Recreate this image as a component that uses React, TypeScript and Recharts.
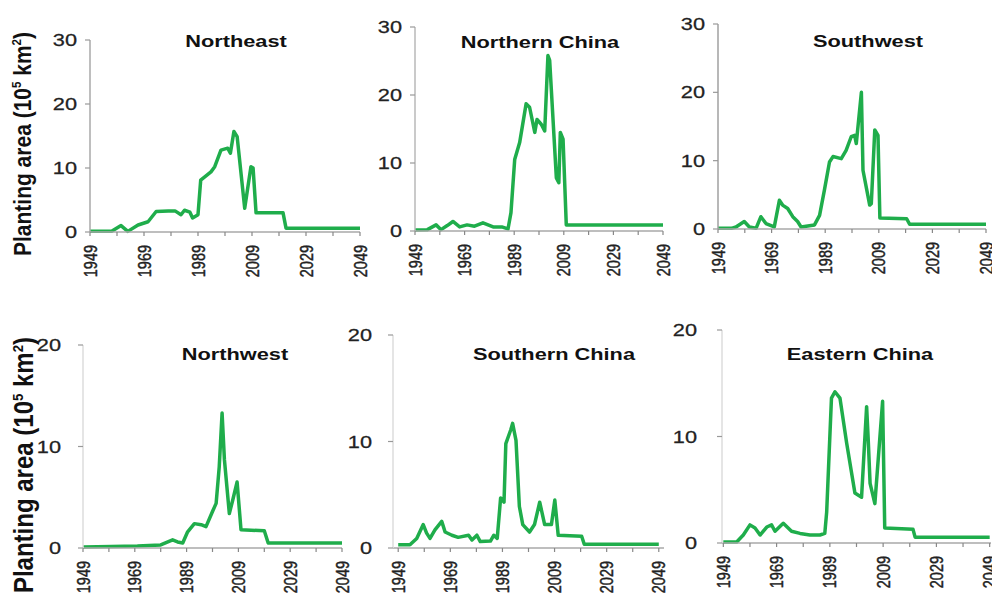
import React from 'react';
import { LineChart, Line, XAxis, YAxis } from 'recharts';

// ---- data: [year, planting area (10^5 km^2)] ----
const northeast: [number, number][] = [
  [1949, 0.1], [1957, 0.1], [1960.5, 1.0], [1963, 0.1], [1966.8, 1.1], [1970.5, 1.6], [1973.5, 3.2],
  [1978, 3.3], [1980.5, 3.3], [1982.7, 2.7], [1984, 3.4], [1986, 3.1], [1987, 2.2], [1989, 2.7],
  [1990, 8.1], [1993.8, 9.4], [1995.2, 10.2], [1997.5, 12.8], [2000, 13.1], [2001, 12.3], [2002.3, 15.7],
  [2003.5, 14.9], [2006.3, 3.7], [2008.6, 10.2], [2009.4, 10.0], [2010.5, 3.0], [2020.5, 3.0],
  [2021.6, 0.6], [2049, 0.6],
];
const northernChina: [number, number][] = [
  [1949, 0.15], [1954, 0.2], [1957.5, 0.9], [1959.5, 0.2], [1962, 0.8], [1964.3, 1.4], [1967, 0.6],
  [1970, 0.9], [1973, 0.7], [1976.4, 1.2], [1980.5, 0.6], [1984, 0.6], [1986.5, 0.3], [1987.7, 2.7],
  [1989.2, 10.5], [1991.2, 13], [1993.8, 18.7], [1995.2, 18.2], [1997.3, 14.5], [1998.2, 16.4],
  [1999.9, 15.7], [2001.3, 14.7], [2002.6, 25.8], [2003.3, 25.1], [2006, 7.8], [2007, 7.1],
  [2007.6, 14.5], [2008.7, 13.5], [2010, 0.9], [2049, 0.9],
];
const southwest: [number, number][] = [
  [1949, 0.1], [1954, 0.1], [1955.7, 0.3], [1958.8, 1.1], [1960.7, 0.3], [1963.2, 0.1], [1965, 1.8],
  [1966.9, 0.8], [1970, 0.3], [1971.9, 4.2], [1973.1, 3.5], [1975, 3.0], [1976.9, 1.8], [1978.7, 1.1],
  [1980, 0.3], [1985, 0.6], [1986.9, 2.0], [1988.7, 5.7], [1990.6, 9.8], [1991.9, 10.6], [1995, 10.3],
  [1996.8, 11.5], [1998.7, 13.5], [2000, 13.7], [2000.6, 12.5], [2002.5, 20.0], [2003.1, 8.6],
  [2005.6, 3.5], [2006.2, 3.7], [2007.5, 14.5], [2008.7, 13.7], [2009.4, 1.6], [2019.4, 1.5],
  [2020.5, 0.7], [2049, 0.7],
];
const northwest: [number, number][] = [
  [1949, 0.1], [1960, 0.15], [1970, 0.2], [1979, 0.3], [1983.6, 0.8], [1985.5, 0.6], [1987.5, 0.5],
  [1989.4, 1.6], [1992, 2.4], [1994.6, 2.3], [1996.5, 2.1], [1999, 3.6], [2000.4, 4.4], [2001.6, 8.0],
  [2002.7, 13.3], [2003.6, 8.7], [2005.5, 3.4], [2006.8, 4.7], [2008.5, 6.5], [2010, 1.8], [2019, 1.7],
  [2020.5, 0.5], [2049, 0.5],
];
const southernChina: [number, number][] = [
  [1949, 0.3], [1953.5, 0.3], [1956.1, 0.9], [1958.6, 2.2], [1959.9, 1.4], [1961.2, 0.9], [1963.1, 1.7],
  [1965.7, 2.5], [1967, 1.5], [1969.6, 1.2], [1972, 1.0], [1976, 1.2], [1977.3, 0.75], [1979.2, 1.2],
  [1980.5, 0.6], [1984.4, 0.65], [1985.7, 1.2], [1987, 0.9], [1988.3, 4.7], [1989.6, 4.3], [1990.3, 9.8],
  [1992.2, 11.1], [1992.9, 11.7], [1994.2, 10.1], [1995.5, 3.9], [1996.8, 2.2], [1999.4, 1.5],
  [2001.3, 2.2], [2003.3, 4.3], [2005.2, 2.2], [2007.8, 2.2], [2009.1, 4.5], [2010.4, 1.2],
  [2019.4, 1.1], [2020.4, 0.35], [2049, 0.35],
];
const easternChina: [number, number][] = [
  [1949, 0.1], [1954, 0.1], [1956.5, 0.75], [1959, 1.7], [1960.9, 1.4], [1962.8, 0.75], [1965.3, 1.5],
  [1967.1, 1.7], [1968.4, 1.1], [1971.5, 1.85], [1974.6, 1.1], [1977.8, 0.9], [1981.5, 0.75],
  [1985.3, 0.75], [1987.1, 0.9], [1987.8, 2.9], [1989.6, 13.6], [1990.9, 14.2], [1992.8, 13.6],
  [1995.3, 9.4], [1998.4, 4.7], [2000.9, 4.3], [2002.8, 12.8], [2003.4, 9.7], [2004.1, 5.6],
  [2005.9, 3.7], [2008.8, 13.3], [2009.6, 1.4], [2020.2, 1.3], [2021, 0.55], [2049, 0.55],
];

const xTicks = [1949, 1959, 1969, 1979, 1989, 1999, 2009, 2019, 2029, 2039, 2049];
const xLabelYears = [1949, 1969, 1989, 2009, 2029, 2049];
const yTicksTop = [0, 10, 20, 30];
const yTicksBottom = [0, 10, 20];
const yLabel = 'Planting area (10';

const GREEN = '#1fad4b';
const FONT = 'Arial, "Liberation Sans", Helvetica, sans-serif';

type Cfg = {
  title: string;
  data: [number, number][];
  x0: number; x1: number; yTop: number; yZero: number;
  domainX: [number, number];
  yMax: number; yTicks: number[];
  tickMargin: number; yAxisColor: string;
  titleX: number; titleY: number;
};

const panels: Cfg[] = [
  { title: 'Northeast', data: northeast, x0: 90, x1: 360, yTop: 40, yZero: 232, domainX: [1949, 2049], yMax: 30, yTicks: yTicksTop, tickMargin: 8, yAxisColor: '#a8a8a8', titleX: 236, titleY: 41 },
  { title: 'Northern China', data: northernChina, x0: 415, x1: 663, yTop: 27, yZero: 231, domainX: [1949, 2049], yMax: 30, yTicks: yTicksTop, tickMargin: 8, yAxisColor: '#b8b8b8', titleX: 540, titleY: 42 },
  { title: 'Southwest', data: southwest, x0: 718, x1: 986, yTop: 24, yZero: 229, domainX: [1949, 2049], yMax: 30, yTicks: yTicksTop, tickMargin: 8, yAxisColor: '#a0a0a0', titleX: 868, titleY: 41 },
  { title: 'Northwest', data: northwest, x0: 83, x1: 342, yTop: 345, yZero: 548, domainX: [1949, 2049], yMax: 20, yTicks: yTicksBottom, tickMargin: 17, yAxisColor: '#dddddd', titleX: 235, titleY: 354 },
  { title: 'Southern China', data: southernChina, x0: 393, x1: 664, yTop: 335, yZero: 548, domainX: [1947, 2051], yMax: 20, yTicks: yTicksBottom, tickMargin: 16, yAxisColor: '#dddddd', titleX: 554, titleY: 354 },
  { title: 'Eastern China', data: easternChina, x0: 722, x1: 991, yTop: 330, yZero: 543, domainX: [1948.5, 2049.5], yMax: 20, yTicks: yTicksBottom, tickMargin: 20, yAxisColor: '#dddddd', titleX: 860, titleY: 354 },
];

const XTick = (props: any) => {
  const { x, y, payload } = props;
  if (!xLabelYears.includes(payload.value)) return null;
  return (
    <g transform={`translate(${x},${y})`}>
      <text
        transform="scale(1.25,1) rotate(-90)"
        x={0}
        y={0}
        textAnchor="end"
        dominantBaseline="central"
        fontSize={14.5}
        fontFamily={FONT}
        fill="#222"
        stroke="#222"
        strokeWidth={0.35}
      >
        {payload.value}
      </text>
    </g>
  );
};

const YTick = (props: any) => {
  const { x, y, payload } = props;
  return (
    <text
      transform={`translate(${x},${y}) scale(1.28,1)`}
      x={0}
      y={0}
      dy="0.36em"
      textAnchor="end"
      fontSize={17}
      fontFamily={FONT}
      fill="#222"
      stroke="#222"
      strokeWidth={0.25}
    >
      {payload.value}
    </text>
  );
};

const YW = 70;
const XH = 70;
const MR = 16;
const MT = 12;

function Panel({ cfg }: { cfg: Cfg }) {
  const rows = cfg.data.map(([year, v]) => ({ year, v }));
  const width = cfg.x1 - cfg.x0 + YW + MR;
  const height = cfg.yZero - cfg.yTop + MT + XH;
  return (
    <div style={{ position: 'absolute', left: cfg.x0 - YW, top: cfg.yTop - MT }}>
      <LineChart width={width} height={height} data={rows} margin={{ top: MT, right: MR, bottom: 0, left: 0 }}>
        <XAxis
          dataKey="year"
          type="number"
          domain={cfg.domainX}
          allowDataOverflow
          ticks={xTicks}
          interval={0}
          height={XH}
          tickSize={4}
          tickMargin={9}
          tick={<XTick />}
          axisLine={{ stroke: '#a8a8a8', strokeWidth: 1.5 }}
          tickLine={{ stroke: '#888', strokeWidth: 1.2 }}
        />
        <YAxis
          type="number"
          domain={[0, cfg.yMax]}
          ticks={cfg.yTicks}
          interval={0}
          width={YW}
          tickSize={5}
          tickMargin={cfg.tickMargin}
          tick={<YTick />}
          axisLine={{ stroke: cfg.yAxisColor, strokeWidth: 1.5 }}
          tickLine={{ stroke: '#999', strokeWidth: 1.2 }}
        />
        <Line
          type="linear"
          dataKey="v"
          stroke={GREEN}
          strokeWidth={3.5}
          strokeLinejoin="round"
          dot={false}
          activeDot={false}
          isAnimationActive={false}
        />
      </LineChart>
    </div>
  );
}

function Title({ text, x, y }: { text: string; x: number; y: number }) {
  return (
    <div
      style={{
        position: 'absolute',
        left: x,
        top: y,
        transform: 'translate(-50%,-50%) scaleX(1.28)',
        fontFamily: FONT,
        fontWeight: 'bold',
        fontSize: 17,
        lineHeight: 1,
        whiteSpace: 'nowrap',
        color: '#111',
      }}
    >
      {text}
    </div>
  );
}

function YLabel({ x, y, size }: { x: number; y: number; size: number }) {
  return (
    <div
      style={{
        position: 'absolute',
        left: x,
        top: y,
        transform: 'translate(-50%,-50%) scaleX(1.15) rotate(-90deg)',
        fontFamily: FONT,
        fontWeight: 'bold',
        fontSize: size,
        lineHeight: 1,
        whiteSpace: 'nowrap',
        color: '#111',
      }}
    >
      {yLabel}
      <sup style={{ fontSize: '0.55em' }}>5</sup> km<sup style={{ fontSize: '0.55em' }}>2</sup>)
    </div>
  );
}

export default function App() {
  return (
    <div
      style={{
        position: 'absolute',
        left: 0,
        top: 0,
        width: 992,
        height: 602,
        overflow: 'hidden',
        background: '#fff',
      }}
    >
      {panels.map((p) => (
        <Panel key={p.title} cfg={p} />
      ))}
      {panels.map((p) => (
        <Title key={'t' + p.title} text={p.title} x={p.titleX} y={p.titleY} />
      ))}
      <YLabel x={22} y={144} size={21} />
      <YLabel x={24} y={465} size={24} />
    </div>
  );
}
